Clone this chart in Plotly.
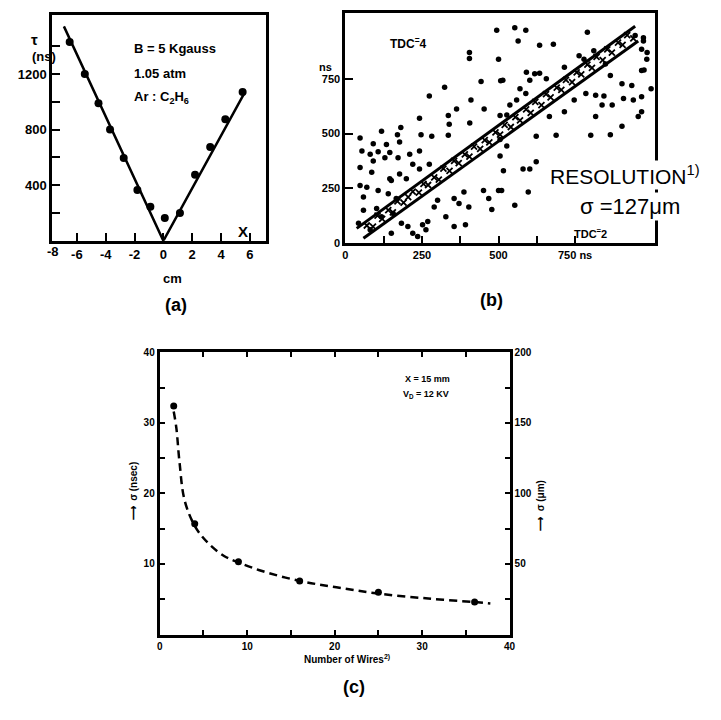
import plotly.graph_objects as go

W, H = 721, 720
def px(x): return x / W
def py(y): return 1 - y / H

FONT = "Liberation Sans"

# ---------------- Panel (a): drift time vs position ----------------
a_x = [-6.5, -5.45, -4.5, -3.7, -2.75, -1.8, -0.9, 0.1, 1.15, 2.2, 3.25, 4.3, 5.5]
a_tau = [1430, 1200, 990, 800, 595, 365, 245, 165, 200, 475, 675, 875, 1070]
a_fit_x = [-6.9, 0, 5.66]
a_fit_tau = [1542, 0, 1070]
a_xticks = [-6, -4, -2, 0, 2, 4, 6]
a_xticklabels = ["-6", "-4", "-2", "0", "2", "4", "6"]
a_yticks = [200, 400, 600, 800, 1000, 1200, 1400]
a_yticklabels = ["", "400", "", "800", "", "1200", ""]

# ---------------- Panel (b): TDC#4 vs TDC#2 scatter ----------------
b_bg_x = [494, 405, 405, 500, 443, 507, 324, 274, 410, 363, 453, 242, 336, 339, 406, 505, 118, 181,
          553, 589, 564, 634, 679, 790, 514, 591, 618, 634, 715, 763, 779, 811, 849, 865, 903, 935,
          967, 984, 946, 973, 967, 817, 747, 715, 817, 871, 908, 940, 967, 838, 903, 956, 967, 666,
          570, 559, 537, 602, 656, 589, 527, 785, 844,
          48, 170, 247, 282, 336, 91, 134, 177, 54, 81, 107, 145, 210, 242, 91, 129, 172, 220, 48,
          86, 145, 150, 177, 199, 242, 274, 48, 70, 107, 59, 140, 166, 59, 102, 43, 118, 156, 328,
          355, 392, 371, 403, 451, 468, 478, 500, 355, 387, 301, 290, 183, 204, 220, 252, 263, 150,
          236, 269, 81,
          865, 801, 688, 623, 505, 527, 505, 623, 580, 602, 516, 510, 597, 553, 973, 985, 975, 998]
b_bg_y = [972, 870, 843, 840, 738, 741, 711, 672, 653, 612, 612, 570, 582, 543, 548, 582, 510, 528,
          983, 972, 923, 903, 908, 963, 743, 780, 773, 776, 803, 855, 840, 878, 818, 765, 728, 720,
          788, 840, 948, 923, 885, 675, 653, 600, 578, 630, 660, 653, 668, 630, 533, 578, 600, 578,
          705, 653, 630, 743, 750, 683, 585, 683, 672,
          480, 495, 495, 488, 492, 453, 450, 462, 420, 405, 417, 413, 405, 420, 375, 390, 390, 360, 345,
          323, 293, 285, 315, 293, 338, 360, 263, 255, 240, 210, 225, 203, 150, 158, 90, 120, 135, 120,
          75, 83, 180, 165, 240, 203, 153, 240, 203, 233, 195, 165, 90, 75, 45, 83, 60, 45,
          30, 98, 60,
          495, 492, 492, 488, 473, 443, 398, 371, 338, 338, 330, 240, 233, 173, 938, 870, 790, 705]
b_band_x = [70, 90, 105, 120, 140, 155, 170, 190, 205, 220, 240, 255, 270, 290, 305, 320, 340, 355,
            370, 390, 405, 420, 440, 455, 470, 490, 505, 520, 540, 555, 570, 590, 605, 620, 640, 655,
            670, 690, 705, 720, 740, 755, 770, 790, 805, 820, 840, 855, 870, 890, 905, 920, 940]
b_band_y = [80, 75, 125, 110, 150, 140, 190, 185, 210, 235, 230, 270, 265, 300, 290, 340, 330, 375,
            365, 405, 395, 440, 430, 470, 460, 505, 495, 540, 530, 575, 560, 610, 595, 645, 630, 680,
            665, 710, 700, 745, 735, 780, 770, 815, 800, 850, 835, 885, 870, 915, 905, 950, 935]
b_upper_x = [37, 946]
b_upper_y = [67, 990]
b_lower_x = [59, 956]
b_lower_y = [22, 923]
b_xticks = [0, 125, 250, 375, 500, 625, 750]
b_xticklabels = ["0", "", "250", "", "500", "", "750 ns"]
b_yticks = [0, 250, 500, 750]
b_yticklabels = ["0", "250", "500", "750"]

# ---------------- Panel (c): sigma vs number of wires ----------------
c_wires2 = [1.6, 4, 9, 16, 25, 36]
c_sigma_ns = [32.4, 15.7, 10.3, 7.6, 6.0, 4.6]
c_curve_x = [1.6, 1.9, 2.25, 2.85, 4.05, 5.5, 7.4, 9.05, 11.7, 16.0, 20.2, 25.0, 30.7, 36.0, 37.8]
c_curve_y = [31.6, 29.3, 24.6, 19.0, 15.3, 13.0, 11.1, 10.2, 9.0, 7.6, 6.7, 5.8, 5.1, 4.6, 4.4]
c_xticks = [0, 5, 10, 15, 20, 25, 30, 35, 40]
c_xticklabels = ["0", "", "10", "", "20", "", "30", "", "40"]
c_yticks = [0, 5, 10, 15, 20, 25, 30, 35, 40]
c_yticklabels = ["", "", "10", "", "20", "", "30", "", "40"]
c_y2ticks = [25, 50, 75, 100, 125, 150, 175, 200]
c_y2ticklabels = ["", "50", "", "100", "", "150", "", "200"]

fig = go.Figure()

# (a)
fig.add_trace(go.Scatter(x=a_fit_x, y=a_fit_tau, mode="lines",
                         line=dict(color="black", width=2.5), xaxis="x", yaxis="y"))
fig.add_trace(go.Scatter(x=a_x, y=a_tau, mode="markers",
                         marker=dict(color="black", size=8), xaxis="x", yaxis="y"))
# (b)
fig.add_trace(go.Scatter(x=b_bg_x, y=b_bg_y, mode="markers",
                         marker=dict(color="black", size=5.5), xaxis="x2", yaxis="y2"))
fig.add_trace(go.Scatter(x=b_band_x, y=b_band_y, mode="markers",
                         marker=dict(color="black", size=6, symbol="x-thin-open",
                                     line=dict(width=1.8, color="black")),
                         xaxis="x2", yaxis="y2"))
fig.add_trace(go.Scatter(x=b_upper_x, y=b_upper_y, mode="lines",
                         line=dict(color="black", width=3), xaxis="x2", yaxis="y2"))
fig.add_trace(go.Scatter(x=b_lower_x, y=b_lower_y, mode="lines",
                         line=dict(color="black", width=3), xaxis="x2", yaxis="y2"))
# (c)
fig.add_trace(go.Scatter(x=c_curve_x, y=c_curve_y, mode="lines", line_shape="spline",
                         line=dict(color="black", width=2.5, dash="8px,5px"),
                         xaxis="x3", yaxis="y3"))
fig.add_trace(go.Scatter(x=c_wires2, y=c_sigma_ns, mode="markers",
                         marker=dict(color="black", size=7), xaxis="x3", yaxis="y3"))
# empty trace so the right-hand (micrometre) axis is drawn
fig.add_trace(go.Scatter(x=[], y=[], mode="markers", xaxis="x3", yaxis="y4"))

def axis(**kw):
    base = dict(showgrid=False, zeroline=False, showline=True, linecolor="black",
                linewidth=3, ticks="inside", tickcolor="black", tickwidth=2,
                tickfont=dict(family=FONT, size=12, color="black", weight="bold"))
    base.update(kw)
    return base

fig.update_layout(
    width=W, height=H, margin=dict(l=0, r=0, t=0, b=0),
    paper_bgcolor="white", plot_bgcolor="white", showlegend=False,
    xaxis=axis(domain=[px(50), px(266)], range=[-7.7, 7.1], anchor="y", mirror=True,
               tickvals=a_xticks, ticktext=a_xticklabels, ticklen=8,
               tickfont=dict(family=FONT, size=13, color="black", weight="bold")),
    yaxis=axis(domain=[py(239.5), py(10)], range=[0, 1625], anchor="x", mirror=True,
               tickvals=a_yticks, ticktext=a_yticklabels, ticklen=8,
               tickfont=dict(family=FONT, size=13, color="black", weight="bold")),
    xaxis2=axis(domain=[px(346.7), px(660)], range=[0, 1010], anchor="y2", mirror=True,
                tickvals=b_xticks, ticktext=b_xticklabels, ticklen=7,
                tickfont=dict(family=FONT, size=11, color="black", weight="bold")),
    yaxis2=axis(domain=[py(241.7), py(8.3)], range=[0, 1050], anchor="x2", mirror=True,
                tickvals=b_yticks, ticktext=b_yticklabels, ticklen=8,
                tickfont=dict(family=FONT, size=11, color="black", weight="bold")),
    xaxis3=axis(domain=[px(158.7), px(513)], range=[0, 40], anchor="y3", mirror="ticks",
                tickvals=c_xticks, ticktext=c_xticklabels, ticklen=5,
                tickfont=dict(family=FONT, size=10, color="black", weight="bold")),
    yaxis3=axis(domain=[py(639.3), py(352.7)], range=[0, 40], anchor="x3",
                tickvals=c_yticks, ticktext=c_yticklabels, ticklen=5,
                tickfont=dict(family=FONT, size=10, color="black", weight="bold")),
    yaxis4=axis(range=[0, 200], anchor="x3", overlaying="y3", side="right",
                tickvals=c_y2ticks, ticktext=c_y2ticklabels, ticklen=5,
                tickfont=dict(family=FONT, size=10, color="black", weight="bold")),
)

def note(text, x, y, size=12, bold=True, **kw):
    t = "<b>%s</b>" % text if bold else text
    fig.add_annotation(text=t, x=px(x), y=py(y), xref="paper", yref="paper",
                       showarrow=False, font=dict(family=FONT, size=size, color="black"), **kw)

# (a) texts
note("τ", 26, 24, 15)
note("(ns)", 27, 43, 13)
note("-8", 43, 250, 13)
note("cm", 160, 278, 13)
note("X", 236, 219, 15)
note("B = 5 Kgauss", 131, 35, 13, xanchor="left")
note("1.05 atm", 131, 60, 13, xanchor="left")
note("Ar : C<sub>2</sub>H<sub>6</sub>", 131, 83, 13, xanchor="left")
note("(a)", 162, 305, 18)

# (b) texts
note("TDC<sup>=</sup>4", 411, 28, 12)
note("ns", 327, 55, 11)
note("RESOLUTION<sup>1)</sup>", 552, 157, 21, bold=False, xanchor="left", bgcolor="white")
note("σ =127μm", 582, 190, 22, bold=False, xanchor="left", bgcolor="white")
note("TDC<sup>=</sup>2", 614, 222, 11)
note("(b)", 508, 300, 18)

# (c) texts
note("X = 15 mm", 430, 380, 9)
note("V<sub>D</sub> = 12 KV", 428, 396, 9)
note("⟶  σ (nsec)", 125, 525, 10, textangle=-90)
note("⟶  σ (μm)", 552, 536, 10, textangle=-90)
note("Number of Wires<sup>2)</sup>", 348, 672, 10)
note("(c)", 355, 705, 18)

fig.write_html("out.html")
